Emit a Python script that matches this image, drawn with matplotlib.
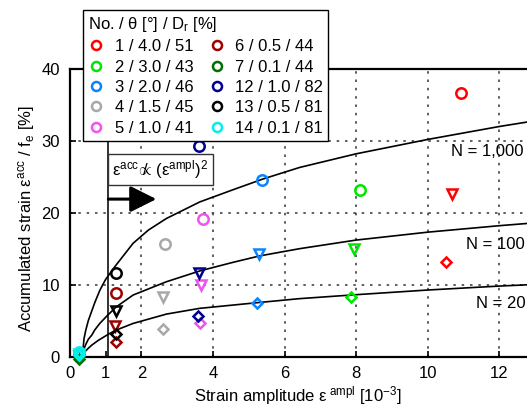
import numpy as np
import matplotlib
matplotlib.use("Agg")
import matplotlib.pyplot as plt
from matplotlib.lines import Line2D

plt.rcParams['font.family'] = ['Liberation Sans', 'DejaVu Sans']
plt.rcParams['mathtext.fontset'] = 'custom'
plt.rcParams['mathtext.rm'] = 'Liberation Sans'
plt.rcParams['mathtext.it'] = 'Liberation Sans'
plt.rcParams['mathtext.bf'] = 'Liberation Sans:bold'

# test series: label, colour
labels = ['1 / 4.0 / 51', '2 / 3.0 / 43', '3 / 2.0 / 46', '4 / 1.5 / 45', '5 / 1.0 / 41',
          '6 / 0.5 / 44', '7 / 0.1 / 44', '12 / 1.0 / 82', '13 / 0.5 / 81', '14 / 0.1 / 81']
colors = ['#ff0000', '#00e600', '#0a84ff', '#a8a8a8', '#ee55ee',
          '#a00000', '#006e00', '#000090', '#000000', '#00f0f0']

# strain amplitude [1e-3] and accumulated strain [%] at N = 1000, 100, 20
x_n1000 = [10.93, 8.11, 5.36, 2.65, 3.73, 1.30, 0.25, 3.62, 1.30, 0.25]
y_n1000 = [36.7, 23.2, 24.55, 15.6, 19.1, 8.86, 0.3, 29.3, 11.65, 0.6]
x_n100 = [10.68, 7.95, 5.29, 2.60, 3.67, 1.26, 0.25, 3.60, 1.30, 0.25]
y_n100 = [22.6, 14.9, 14.3, 8.3, 9.93, 4.27, 0.1, 11.55, 6.35, 0.4]
x_n20 = [10.52, 7.85, 5.24, 2.60, 3.64, 1.30, 0.25, 3.57, 1.30, 0.25]
y_n20 = [13.1, 8.3, 7.5, 3.8, 4.7, 1.95, -0.3, 5.65, 3.2, 0.2]

# fitted curves
cx_1000 = [0.35, 0.40, 0.45, 0.52, 0.57, 0.70, 0.84, 1.0, 1.26, 1.77, 2.2, 2.70,
           3.63, 4.56, 5.4, 6.42, 8.0, 10.0, 12.0, 14.0]
cy_1000 = [0.0, 2.5, 3.7, 5.0, 5.7, 7.5, 9.2, 10.7, 12.5, 15.75, 17.6, 19.2,
           21.5, 23.2, 24.7, 26.3, 28.2, 30.2, 32.0, 33.6]
cx_100 = [0.35, 0.40, 0.45, 0.52, 0.62, 0.70, 0.84, 1.05, 1.30, 1.77, 2.70,
          3.63, 4.56, 5.31, 6.42, 8.0, 10.0, 12.0, 14.0]
cy_100 = [0.0, 1.1, 1.7, 2.4, 3.0, 3.7, 4.6, 5.7, 6.9, 8.55, 10.4,
          11.9, 13.1, 14.0, 15.0, 16.2, 17.3, 18.2, 19.0]
cx_20 = [0.35, 0.40, 0.45, 0.52, 0.62, 0.80, 1.08, 1.26, 1.77, 2.70,
         3.63, 5.26, 6.42, 8.0, 10.0, 12.0, 14.0]
cy_20 = [0.0, 0.5, 0.8, 1.15, 1.6, 2.25, 3.1, 3.6, 4.6, 5.9,
         6.7, 7.5, 8.05, 8.6, 9.25, 9.8, 10.25]

curve_labels = ['N = 1,000', 'N = 100', 'N = 20']
curve_label_pos = [(10.66, 28.5), (11.07, 15.6), (11.35, 7.4)]

grid_x = [2, 4, 6, 8, 10, 12]
grid_y = [10, 20, 30]
x_ticks = [0, 1, 2, 4, 6, 8, 10, 12, 14]
y_ticks = [0, 10, 20, 30, 40]

fig = plt.figure(figsize=(5.27, 4.12), dpi=100)
ax = fig.add_axes([0.1323, 0.1347, 0.951, 0.6978])
ax.set_xlim(0, 14)
ax.set_ylim(0, 40)

for gx in grid_x:
    ax.axvline(gx, color='#444444', lw=1.2, ls=(0, (1.5, 3.5)), zorder=0)
for gy in grid_y:
    ax.axhline(gy, color='#444444', lw=1.2, ls=(0, (1.5, 3.5)), zorder=0)
ax.axvline(1.08, color='#222222', lw=1.3, zorder=1)

ax.plot(cx_1000, cy_1000, color='k', lw=1.2, zorder=2)
ax.plot(cx_100, cy_100, color='k', lw=1.2, zorder=2)
ax.plot(cx_20, cy_20, color='k', lw=1.2, zorder=2)

for i, c in enumerate(colors):
    ax.plot(x_n1000[i], y_n1000[i], 'o', ms=7.5, mfc='none', mec=c, mew=1.8, zorder=3, clip_on=False)
    ax.plot(x_n100[i], y_n100[i], 'v', ms=7.5, mfc='none', mec=c, mew=1.8, zorder=3, clip_on=False)
    ax.plot(x_n20[i], y_n20[i], 'D', ms=5.5, mfc='none', mec=c, mew=1.8, zorder=3, clip_on=False)

for txt, (tx, ty) in zip(curve_labels, curve_label_pos):
    ax.text(tx, ty, txt, fontsize=12, ha='left', va='center')

# "not proportional": slash drawn over the propto sign
ax.text(2.53, 26.0,
        r'$\mathrm{ε}^{\mathrm{acc}}\hspace{-0.15}{\propto}\hspace{-0.9}{/}\hspace{0.65}(\mathrm{ε}^{\mathrm{ampl}})^2$',
        fontsize=12, ha='center', va='center',
        bbox=dict(boxstyle='square,pad=0.25', fc='white', ec='#333333', lw=1))
ax.annotate('', xy=(2.42, 21.9), xytext=(1.08, 21.9),
            arrowprops=dict(arrowstyle='-|>,head_length=0.4,head_width=0.2',
                            mutation_scale=40, lw=2.2, color='k', shrinkA=0, shrinkB=0))

ax.set_xticks(x_ticks)
ax.set_yticks(y_ticks)
ax.tick_params(direction='in', length=4, width=1.2, labelsize=12, pad=7)
for s in ax.spines.values():
    s.set_linewidth(1.6)

ax.set_xlabel(r'Strain amplitude $\mathrm{ε}^{\;\mathrm{ampl}}$ [10$^{-3}$]', fontsize=12)
ax.xaxis.set_label_coords(0.455, -0.095)
ax.set_ylabel(r'Accumulated strain $\mathrm{ε}^{\mathrm{acc}}$ / f$_\mathrm{e}$ [%]', fontsize=12)
ax.yaxis.set_label_coords(-0.066, 0.48)

handles = [Line2D([], [], ls='none', marker='o', ms=6.5, mfc='none', mec=c, mew=1.8) for c in colors]
leg = fig.legend(handles, labels, ncol=2, loc='upper left',
                 bbox_to_anchor=(83 / 527, 1 - 10 / 412), fontsize=12,
                 title='No. / θ [°] / D$_\\mathrm{r}$ [%]', title_fontsize=12,
                 alignment='left', fancybox=False, framealpha=1, edgecolor='black',
                 handlelength=1.0, handletextpad=0.6, columnspacing=0.9,
                 labelspacing=0.32, borderpad=0.3, borderaxespad=0)
leg.get_frame().set_linewidth(1.0)

fig.savefig('out.png', dpi=100)
